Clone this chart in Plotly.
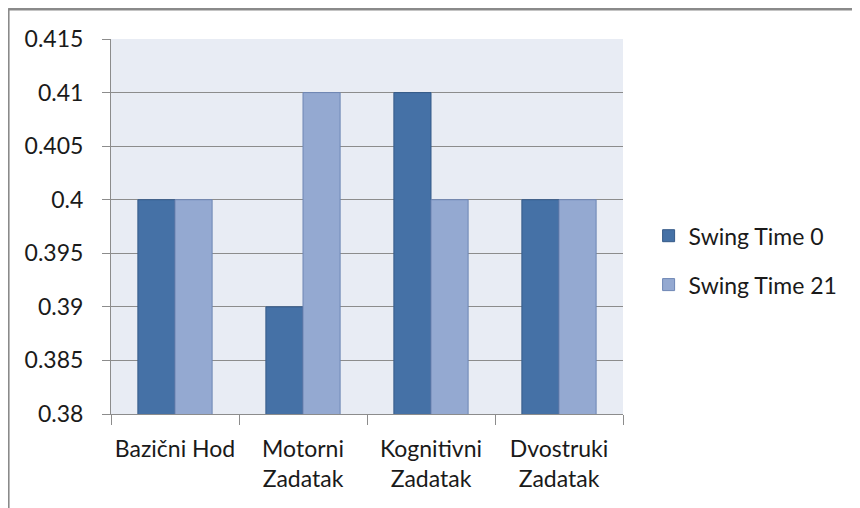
import plotly.graph_objects as go

# ── data ──────────────────────────────────────────────────────────────────────
categories = ["Bazični Hod", "Motorni<br>Zadatak", "Kognitivni<br>Zadatak", "Dvostruki<br>Zadatak"]
swing_time_0 = [0.40, 0.39, 0.41, 0.40]
swing_time_21 = [0.40, 0.41, 0.40, 0.40]
y_ticks = [0.38, 0.385, 0.39, 0.395, 0.40, 0.405, 0.41, 0.415]
y_tick_text = ["0.38", "0.385", "0.39", "0.395", "0.4", "0.405", "0.41", "0.415"]

FONT = dict(family="Lato, 'Open Sans', sans-serif", size=23, color="#1a1a1a")
GRID = "#8c8c8c"

fig = go.Figure()
fig.add_trace(go.Bar(
    x=categories, y=swing_time_0, name="Swing Time 0", legendgroup="a",
    marker=dict(color="#4571A6", line=dict(color="#355a88", width=1)),
))
fig.add_trace(go.Bar(
    x=categories, y=swing_time_21, name="Swing Time 21", legendgroup="b",
    marker=dict(color="#94A9D1", line=dict(color="#6e86b4", width=1)),
))

# outer chart frame (top + left only, as in the reference)
fig.add_shape(type="line", xref="paper", yref="paper",
              x0=-0.201, x1=1.46, y0=1.08, y1=1.08, line=dict(color="#8a8a8a", width=3))
fig.add_shape(type="line", xref="paper", yref="paper",
              x0=-0.201, x1=-0.201, y0=1.08, y1=-0.26, line=dict(color="#8a8a8a", width=3))

# page body has an 8px margin, so the figure is drawn 8px smaller and offset
fig.update_layout(
    width=852, height=500,
    margin=dict(l=103, r=237, t=31, b=94, autoexpand=False),
    paper_bgcolor="white",
    plot_bgcolor="#E8ECF4",
    font=FONT,
    barmode="group",
    bargap=0.42,
    bargroupgap=0,
    showlegend=True,
    legend=dict(x=1.05, y=0.41, xanchor="left", yanchor="middle",
                tracegroupgap=16, font=FONT, bgcolor="rgba(0,0,0,0)"),
    xaxis=dict(showgrid=False, showline=True, linecolor=GRID, linewidth=1,
               ticks="outside", tickson="boundaries", ticklen=10, tickcolor=GRID,
               tickangle=0, automargin=False,
               ticklabelstandoff=14, tickfont=FONT),
    yaxis=dict(range=[0.38, 0.415], tickvals=y_ticks, ticktext=y_tick_text,
               showgrid=True, gridcolor=GRID, gridwidth=1,
               showline=True, linecolor=GRID, linewidth=1,
               ticks="outside", ticklen=8, tickcolor=GRID, automargin=False,
               ticklabelstandoff=14, tickfont=FONT, zeroline=False),
)

fig.write_html("out.html")
